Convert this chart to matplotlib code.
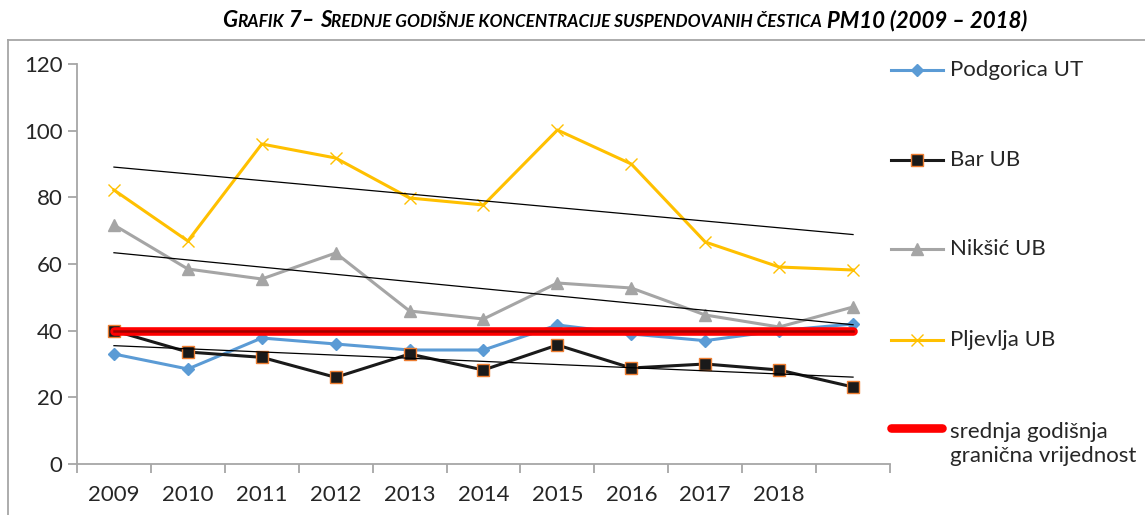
import matplotlib
matplotlib.use("Agg")
import matplotlib.pyplot as plt
import numpy as np
from matplotlib.lines import Line2D

# ---- data ----
years = ["2009", "2010", "2011", "2012", "2013", "2014", "2015", "2016", "2017", "2018", ""]
podgorica = [33.0, 28.5, 37.8, 36.0, 34.2, 34.2, 41.7, 39.0, 37.0, 40.0, 42.0]
bar = [40.0, 33.6, 32.0, 26.0, 33.0, 28.2, 35.7, 28.8, 30.0, 28.2, 23.1]
niksic = [71.7, 58.5, 55.5, 63.3, 45.9, 43.5, 54.3, 52.8, 44.7, 41.1, 47.1]
pljevlja = [82.2, 66.9, 96.0, 91.8, 79.8, 77.7, 100.2, 90.0, 66.6, 59.1, 58.2]
limit_value = 40
yticks = [0, 20, 40, 60, 80, 100, 120]

W, H = 1145, 515
FONT = "Lato"
TXT = "#262626"
AXC = "#a6a6a6"
FS = 16


def fx(px):
    return px / W


def fy(py):
    return 1 - py / H


fig = plt.figure(figsize=(W / 100, H / 100), dpi=100)
ax = fig.add_axes([fx(77), fy(464), fx(890) - fx(77), fy(64) - fy(464)])

x = np.arange(len(years))

ax.plot(x, podgorica, color="#5b9bd5", lw=2.2, marker="D", ms=6.5,
        mfc="#5b9bd5", mec="#5b9bd5", zorder=3)
ax.plot(x, bar, color="#1a1a1a", lw=2.2, marker="s", ms=8.5,
        mfc="#1a1a1a", mec="#ed7d31", mew=1.0, zorder=3)
ax.plot(x, niksic, color="#a5a5a5", lw=2.2, marker="^", ms=8,
        mfc="#a5a5a5", mec="#a5a5a5", zorder=3)
ax.plot(x, pljevlja, color="#ffc000", lw=2.2, marker="x", ms=9, mew=1.0,
        zorder=3)

# linear trend lines
for series in (pljevlja, niksic, bar):
    k, b = np.polyfit(x, series, 1)
    ax.plot(x, k * x + b, color="black", lw=0.9, zorder=4)

# limit value
lim = [limit_value] * len(x)
ax.plot(x, lim, color="#ff0000", lw=6.2, solid_capstyle="round", zorder=5)
ax.plot(x, lim, color="#8b0000", lw=1.8, alpha=0.8, zorder=6)

ax.set_xlim(-0.5, len(x) - 0.5)
ax.set_ylim(0, 120)
ax.set_yticks(yticks)
ax.set_xticks(np.arange(-0.5, len(x), 1.0))
ax.set_xticklabels([])
ax.set_xticks(x, minor=True)
ax.set_xticklabels(years, minor=True)

for s in ("top", "right"):
    ax.spines[s].set_visible(False)
for s in ("left", "bottom"):
    ax.spines[s].set_color(AXC)
    ax.spines[s].set_linewidth(1.3)

ax.tick_params(axis="y", direction="out", length=6.5, width=1.3, color=AXC,
               labelsize=FS, labelcolor=TXT, pad=4)
ax.tick_params(axis="x", which="major", direction="out", length=6.5,
               width=1.3, color=AXC)
ax.tick_params(axis="x", which="minor", length=0, labelsize=FS,
               labelcolor=TXT, pad=15)
for lab in ax.get_xticklabels(minor=True) + ax.get_yticklabels():
    lab.set_fontfamily(FONT)

# chart-area border (top and left visible)
fig.add_artist(Line2D([fx(8), 1], [fy(40), fy(40)], color=AXC, lw=1.3,
                      transform=fig.transFigure))
fig.add_artist(Line2D([fx(8), fx(8)], [fy(40), 0], color=AXC, lw=1.3,
                      transform=fig.transFigure))

# legend drawn by hand to match the spacing
legend_items = [
    ("Podgorica UT", dict(color="#5b9bd5", marker="D", ms=6.5, mfc="#5b9bd5", mec="#5b9bd5"), 70),
    ("Bar UB", dict(color="#1a1a1a", marker="s", ms=8.5, mfc="#1a1a1a", mec="#ed7d31", mew=1.0), 160),
    ("Nikšić UB", dict(color="#a5a5a5", marker="^", ms=8, mfc="#a5a5a5", mec="#a5a5a5"), 249),
    ("Pljevlja UB", dict(color="#ffc000", marker="x", ms=9, mew=1.0), 340),
]
for label, style, py in legend_items:
    fig.add_artist(Line2D([fx(891), fx(943)], [fy(py), fy(py)], lw=2.2,
                          color=style["color"], transform=fig.transFigure))
    fig.add_artist(Line2D([fx(917)], [fy(py)], lw=0, transform=fig.transFigure,
                          **style))
    fig.text(fx(950), fy(py), label, fontsize=FS, family=FONT, color=TXT,
             va="center", ha="left")
fig.add_artist(Line2D([fx(891), fx(942)], [fy(428), fy(428)], lw=6.2,
                      color="#ff0000", solid_capstyle="round",
                      transform=fig.transFigure))
fig.text(fx(950), fy(444), "srednja godišnja\ngranična vrijednost",
         fontsize=FS, family=FONT, color=TXT, va="center", ha="left",
         linespacing=1.25)

# title in small caps: big letters and smaller capitals drawn piece by piece
BIG, SMALL = 16, 12.4
pieces = [("G", BIG), ("RAFIK", SMALL), (" 7– ", BIG), ("S", BIG),
          ("REDNJE GODIŠNJE KONCENTRACIJE SUSPENDOVANIH ČESTICA", SMALL),
          (" PM10 (2009 – 2018)", BIG)]
renderer = fig.canvas.get_renderer()
texts = []
for s, size in pieces:
    t = fig.text(0, fy(27), s, fontsize=size, family=FONT, weight="bold",
                 style="italic", color="black", ha="left", va="baseline")
    texts.append(t)
widths = [t.get_window_extent(renderer).width for t in texts]
total = sum(widths)
cur = 625 - total / 2
for t, w in zip(texts, widths):
    t.set_x(fx(cur))
    cur += w

fig.savefig("out.png", dpi=100)
